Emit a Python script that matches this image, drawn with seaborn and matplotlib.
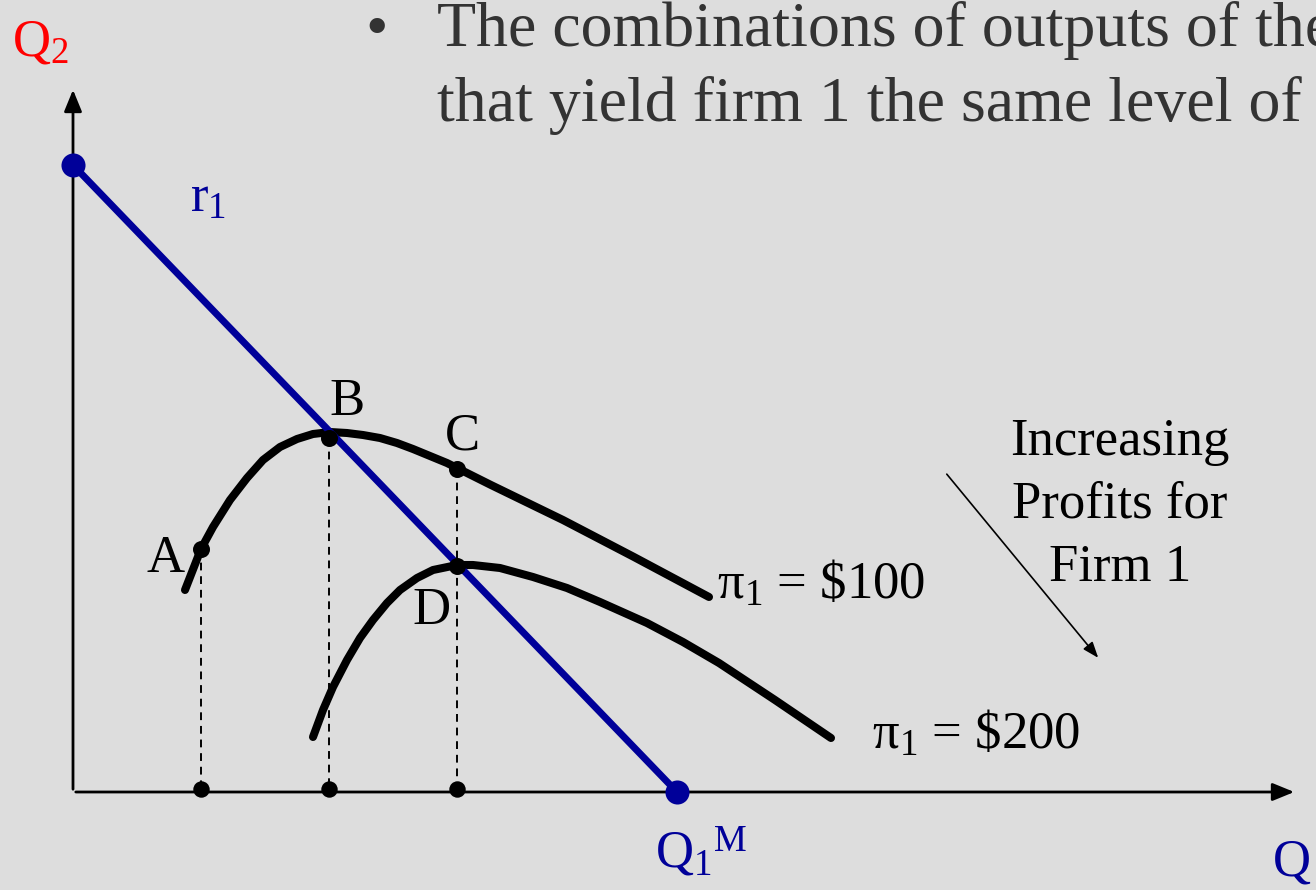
import matplotlib
matplotlib.use("Agg")
import matplotlib.pyplot as plt
import seaborn as sns
import pandas as pd

# reaction function r1 (Q1, Q2)
r1_q1 = [0, 604]
r1_q2 = [627, 0]

# isoprofit curves
pi100_q1 = [112, 128, 140, 157, 174, 190, 207, 224, 240, 257, 274, 290, 307, 324, 340, 357, 374, 384, 418, 490, 561, 636]
pi100_q2 = [202, 243, 265, 292, 314, 332, 345, 353, 358, 360, 359, 357, 354, 349, 343, 336, 329, 324, 307, 272, 235, 195]
pi200_q1 = [240, 250, 260, 274, 287, 300, 314, 327, 344, 360, 384, 400, 427, 460, 494, 527, 574, 610, 646, 702, 758]
pi200_q2 = [55, 82, 105, 132, 154, 172, 189, 202, 214, 222, 227, 227, 224, 215, 204, 190, 169, 150, 129, 92, 54]

# labelled points A-D and their feet on the Q1 axis
pt_names = ["A", "B", "C", "D"]
pt_q1 = [128, 256, 384, 384]
pt_q2 = [243, 354, 323, 226]
foot_q1 = [128, 256, 384]

BG = "#dddddd"
BLUE = "#000099"

sns.set_theme(style="white")
plt.rcParams["font.family"] = ["Liberation Serif", "DejaVu Serif"]
plt.rcParams["mathtext.fontset"] = "custom"
plt.rcParams["mathtext.rm"] = "Liberation Serif"
plt.rcParams["mathtext.it"] = "Liberation Serif:italic"
plt.rcParams["mathtext.default"] = "rm"

fig = plt.figure(figsize=(13.16, 8.90), dpi=100, facecolor=BG)
ax = fig.add_axes([0, 0, 1, 1])
ax.set_facecolor(BG)
ax.set_xlim(-73, 1243)
ax.set_ylim(-98, 792)
ax.axis("off")

# axes with arrows
ax.annotate("", xy=(0, 705), xytext=(0, 0),
            arrowprops=dict(arrowstyle="-|>,head_length=1.1,head_width=0.45", color="black", lw=2))
ax.annotate("", xy=(1224, 0), xytext=(0, 0),
            arrowprops=dict(arrowstyle="-|>,head_length=1.1,head_width=0.45", color="black", lw=2))

# dashed drop lines
for x, y in zip(pt_q1[:3], pt_q2[:3]):
    ax.plot([x, x], [y, 3], color="black", lw=1.4, ls=(0, (4, 3)), zorder=2)

curves = pd.DataFrame({"q1": pi100_q1, "q2": pi100_q2})
sns.lineplot(data=curves, x="q1", y="q2", color="black", lw=5.8, ax=ax, zorder=3,
             solid_joinstyle="round")
curves2 = pd.DataFrame({"q1": pi200_q1, "q2": pi200_q2})
sns.lineplot(data=curves2, x="q1", y="q2", color="black", lw=5.8, ax=ax, zorder=3,
             solid_joinstyle="round")

sns.lineplot(x=r1_q1, y=r1_q2, color=BLUE, lw=5, ax=ax, zorder=4)
sns.scatterplot(x=r1_q1, y=r1_q2, color=BLUE, s=300, linewidth=0, ax=ax, zorder=5)

sns.scatterplot(x=pt_q1, y=pt_q2, color="black", s=150, linewidth=0, ax=ax, zorder=6)
sns.scatterplot(x=foot_q1, y=[3] * len(foot_q1), color="black", s=140, linewidth=0, ax=ax, zorder=6)

fs = 38
label_pos = {"A": (93, 220), "B": (274, 377), "C": (389, 342), "D": (359, 168)}
for n in pt_names:
    ax.text(*label_pos[n], n, fontsize=fs, ha="center", va="baseline", color="black")

ax.text(-61, 737, r"Q$_2$", fontsize=fs, color="red", ha="left", va="baseline")
ax.text(117, 580, r"r$_1$", fontsize=fs, color=BLUE, ha="left", va="baseline")
ax.text(582, -76, r"Q$_1{}^{M}$", fontsize=fs, color=BLUE, ha="left", va="baseline")
ax.text(1200, -84, "Q", fontsize=fs, color=BLUE, ha="left", va="baseline")

ax.text(644, 193, r"π$_1$ = \$100", fontsize=fs, color="black", ha="left", va="baseline")
ax.text(799, 43, r"π$_1$ = \$200", fontsize=fs, color="black", ha="left", va="baseline")

for txt, y in zip(["Increasing", "Profits for", "Firm 1"], [337, 274, 211]):
    ax.text(1047, y, txt, fontsize=fs, color="black", ha="center", va="baseline")
ax.annotate("", xy=(1027, 132), xytext=(872, 320),
            arrowprops=dict(arrowstyle="-|>,head_length=0.8,head_width=0.3", color="black", lw=1.2))

# slide heading (cut at the right edge as on the slide)
hc = "#333333"
hfs = 46
ax.text(292, 745, "•", fontsize=hfs, color=hc, ha="left", va="baseline")
ax.text(364, 746, "The combinations of outputs of the", fontsize=hfs, color=hc,
        ha="left", va="baseline")
ax.text(364, 671, "that yield firm 1 the same level of", fontsize=hfs, color=hc,
        ha="left", va="baseline")

fig.savefig("out.png", dpi=100, facecolor=BG)
